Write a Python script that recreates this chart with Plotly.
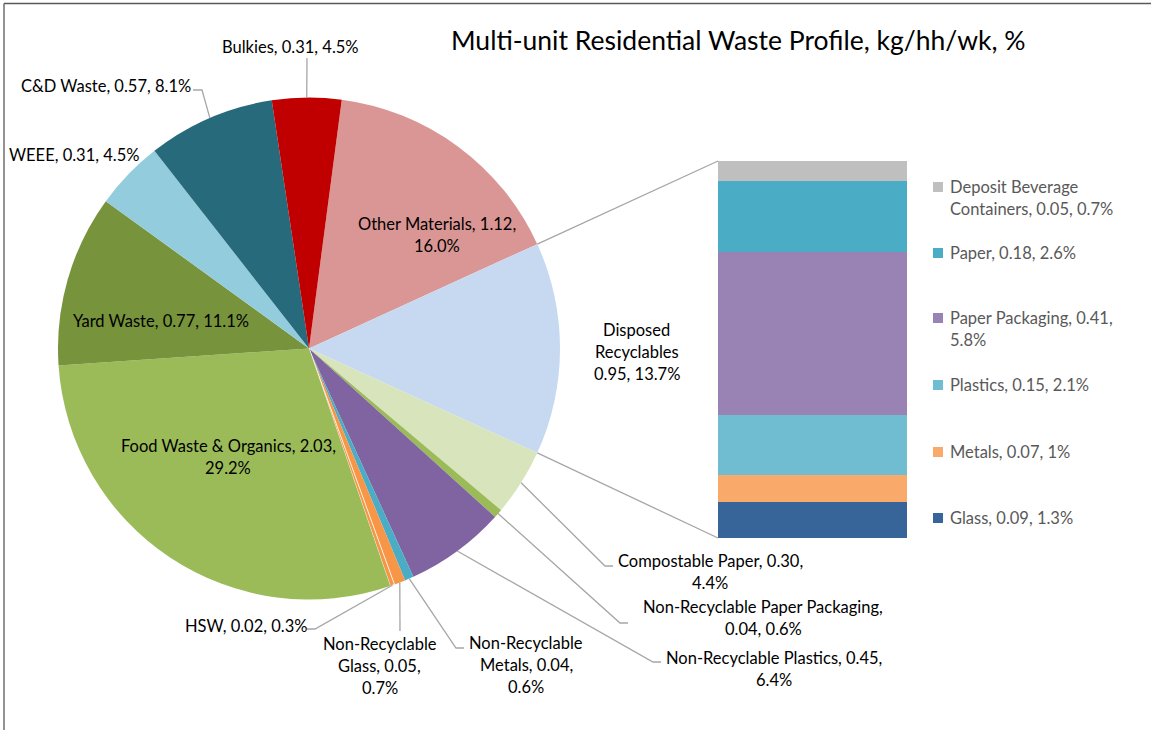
import math
import plotly.graph_objects as go

# ---------------- data ----------------
pie_names = ["Other Materials", "Disposed Recyclables", "Compostable Paper",
             "Non-Recyclable Paper Packaging", "Non-Recyclable Plastics",
             "Non-Recyclable Metals", "Non-Recyclable Glass", "HSW",
             "Food Waste & Organics", "Yard Waste", "WEEE", "C&D Waste", "Bulkies"]
pie_values = [1.12, 0.95, 0.30, 0.04, 0.45, 0.04, 0.05, 0.02, 2.03, 0.77, 0.31, 0.57, 0.31]
pie_pcts = ["16.0%", "13.7%", "4.4%", "0.6%", "6.4%", "0.6%", "0.7%", "0.3%",
            "29.2%", "11.1%", "4.5%", "8.1%", "4.5%"]
pie_colors = ["#DA9694", "#C6D9F1", "#D8E4BC", "#9BBB59", "#8064A2", "#4BACC6",
              "#F79646", "#F79646", "#9BBB59", "#77933C", "#93CDDD", "#276A7C", "#C00000"]

bar_names = ["Glass", "Metals", "Plastics", "Paper Packaging", "Paper",
             "Deposit Beverage Containers"]
bar_values = [0.09, 0.07, 0.15, 0.41, 0.18, 0.05]
bar_pcts = ["1.3%", "1%", "2.1%", "5.8%", "2.6%", "0.7%"]
bar_colors = ["#386599", "#F9AA6B", "#70BCD1", "#9983B5", "#4AACC5", "#BFBFBF"]

title_text = "Multi-unit Residential Waste Profile, kg/hh/wk, %"
aggregate_name = "Disposed Recyclables"

# ---------------- layout constants (pixels) ----------------
W, H = 1151, 730
CX, CY, R = 309, 348.5, 251
BAR_BOX = (718, 161, 907, 538)  # x0, y0(top), x1, y1(bottom)
FONT = "Lato, 'Open Sans', sans-serif"
FS = 16.5
LS = 22  # line spacing of labels

# label placement: centre (px), format
label_layout = {
    "Other Materials": (437, 235, "{n}, {v},<br>{p}"),
    "Disposed Recyclables": (637, 352, "{w[0]}<br>{w[1]}<br>{v}, {p}"),
    "Compostable Paper": (710, 571.5, "{n}, {v},<br>{p}"),
    "Non-Recyclable Paper Packaging": (763, 618, "{n},<br>{v}, {p}"),
    "Non-Recyclable Plastics": (774, 668.5, "{n}, {v},<br>{p}"),
    "Non-Recyclable Metals": (526, 665, "{w[0]}<br>{w[1]}, {v},<br>{p}"),
    "Non-Recyclable Glass": (380, 665.5, "{w[0]}<br>{w[1]}, {v},<br>{p}"),
    "HSW": (246, 626, "{n}, {v}, {p}"),
    "Food Waste & Organics": (228, 456.5, "{n}, {v},<br>{p}"),
    "Yard Waste": (161, 321, "{n}, {v}, {p}"),
    "WEEE": (74, 155, "{n}, {v}, {p}"),
    "C&D Waste": (106, 86, "{n}, {v}, {p}"),
    "Bulkies": (290, 47, "{n}, {v}, {p}"),
}
# leader polylines (after the computed start on the pie edge)
leader_layout = {
    "Bulkies": [(307, 58)],
    "C&D Waste": [(202, 90), (193, 90)],
    "Compostable Paper": [(605, 566), (613, 566)],
    "Non-Recyclable Paper Packaging": [(620, 623), (628, 623)],
    "Non-Recyclable Plastics": [(653, 662), (661, 662)],
    "Non-Recyclable Metals": [(456, 648), (464, 648)],
    "Non-Recyclable Glass": [(400, 631)],
    "HSW": [(315, 629), (307, 629)],
}
legend_layout = {
    "Deposit Beverage Containers": (187, "{w[0]} {w[1]}<br>{w[2]}, {v}, {p}"),
    "Paper": (253, "{n}, {v}, {p}"),
    "Paper Packaging": (318, "{n}, {v},<br>{p}"),
    "Plastics": (385, "{n}, {v}, {p}"),
    "Metals": (452, "{n}, {v}, {p}"),
    "Glass": (518, "{n}, {v}, {p}"),
}
LEG_MARK_X, LEG_TEXT_X = 933, 948


def px(x):
    return x / W


def py(y):
    return 1 - y / H


def fmt(template, name, value, pct):
    return template.format(n=name, w=name.split(" "), v=f"{value:.2f}", p=pct)


total = sum(pie_values)
idx_agg = pie_names.index(aggregate_name)
before = sum(pie_values[:idx_agg])
# Excel pie-of-bar centres the aggregated slice on 3 o'clock
rotation = 90 - (before + pie_values[idx_agg] / 2) / total * 360

# slice angles (deg clockwise from 12 o'clock)
starts, ends = [], []
acc = rotation
for v in pie_values:
    starts.append(acc)
    acc += v / total * 360
    ends.append(acc)


def edge(angle_deg, r=R):
    a = math.radians(angle_deg)
    return CX + r * math.sin(a), CY - r * math.cos(a)


fig = go.Figure()

fig.add_trace(go.Pie(
    labels=pie_names, values=pie_values, sort=False, direction="clockwise",
    rotation=rotation, textinfo="none",
    marker=dict(colors=pie_colors,
                line=dict(color="white", width=[0, 0, 0, 0, 0, 0, 0, 0.8, 0, 0, 0, 0, 0])),
    domain=dict(x=[px(CX - R), px(CX + R)], y=[py(CY + R), py(CY - R)]),
    showlegend=False, hoverinfo="label+value+percent",
))

for name, val, col in zip(bar_names, bar_values, bar_colors):
    fig.add_trace(go.Bar(x=[0], y=[val], name=name, marker=dict(color=col, line=dict(width=0)),
                         width=1, showlegend=False, hoverinfo="name+y"))

bx0, by0, bx1, by1 = BAR_BOX
fig.update_layout(
    width=W, height=H, margin=dict(l=0, r=0, t=0, b=0),
    paper_bgcolor="white", plot_bgcolor="white",
    barmode="stack", bargap=0,
    xaxis=dict(domain=[px(bx0), px(bx1)], range=[-0.5, 0.5], visible=False, fixedrange=True),
    yaxis=dict(domain=[py(by1), py(by0)], range=[0, sum(bar_values)], visible=False, fixedrange=True),
    font=dict(family=FONT),
)

shapes = []
annotations = []
LINE = dict(color="#A6A6A6", width=1.3)

# connectors pie -> bar
ux, uy = edge(starts[idx_agg])
lx, ly = edge(ends[idx_agg])
shapes.append(dict(type="line", xref="paper", yref="paper", x0=px(ux), y0=py(uy),
                   x1=px(bx0), y1=py(by0), line=LINE))
shapes.append(dict(type="line", xref="paper", yref="paper", x0=px(lx), y0=py(ly),
                   x1=px(bx0), y1=py(by1), line=LINE))

# leaders
for name, pts in leader_layout.items():
    i = pie_names.index(name)
    sx, sy = edge((starts[i] + ends[i]) / 2)
    allp = [(sx, sy)] + pts
    path = "M " + " L ".join(f"{px(x):.5f},{py(y):.5f}" for x, y in allp)
    shapes.append(dict(type="path", xref="paper", yref="paper", path=path, line=LINE,
                       fillcolor="rgba(0,0,0,0)"))

# pie labels
for name, val, pct in zip(pie_names, pie_values, pie_pcts):
    cx, cy, tpl = label_layout[name]
    lines = fmt(tpl, name, val, pct).split("<br>")
    n = len(lines)
    for k, t in enumerate(lines):
        yy = cy + (k - (n - 1) / 2) * LS
        annotations.append(dict(x=px(cx), y=py(yy), xref="paper", yref="paper", text=t,
                                showarrow=False, xanchor="center", yanchor="middle",
                                font=dict(size=FS, color="#000000", family=FONT)))

# bar legend
for name, val, pct, col in zip(bar_names, bar_values, bar_pcts, bar_colors):
    y0, tpl = legend_layout[name]
    shapes.append(dict(type="rect", xref="paper", yref="paper",
                       x0=px(LEG_MARK_X), x1=px(LEG_MARK_X + 10),
                       y0=py(y0 - 5), y1=py(y0 + 5), fillcolor=col, line=dict(width=0)))
    for k, t in enumerate(fmt(tpl, name, val, pct).split("<br>")):
        annotations.append(dict(x=px(LEG_TEXT_X), y=py(y0 + k * LS), xref="paper", yref="paper",
                                text=t, showarrow=False, xanchor="left", yanchor="middle",
                                font=dict(size=FS, color="#595959", family=FONT)))

# title
annotations.append(dict(x=px(738), y=py(40), xref="paper", yref="paper", text=title_text,
                        showarrow=False, xanchor="center", yanchor="middle",
                        font=dict(size=26.5, color="#000000", family=FONT)))

# chart frame (top and left edges visible)
shapes.append(dict(type="line", xref="paper", yref="paper", x0=px(4), y0=py(3.5), x1=1, y1=py(3.5),
                   line=dict(color="#595959", width=1.3)))
shapes.append(dict(type="line", xref="paper", yref="paper", x0=px(4), y0=py(3.5), x1=px(4), y1=0,
                   line=dict(color="#595959", width=1.3)))

fig.update_layout(shapes=shapes, annotations=annotations)
fig.write_html("out.html", config={"displayModeBar": False},
               post_script="document.body.style.margin='0';document.body.style.overflow='hidden';")
